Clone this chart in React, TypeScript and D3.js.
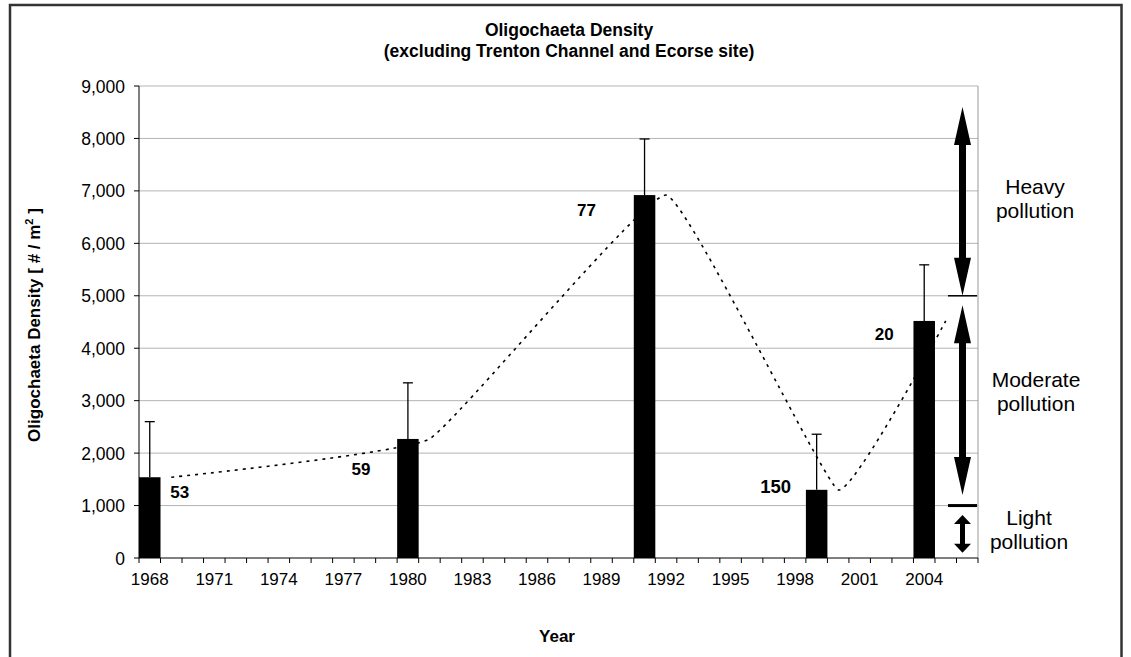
import React from "react";
import * as d3 from "d3";

// sampling years with density and upper error values (# / m2)
const years = [1968, 1980, 1991, 1999, 2004];
const density = [1540, 2270, 6920, 1300, 4520];
const errorTop = [2600, 3340, 7990, 2360, 5590];
const sampleCounts = ["53", "59", "77", "150", "20"];

const axisYears = d3.range(1968, 2007);
const yTicks = [0, 1000, 2000, 3000, 4000, 5000, 6000, 7000, 8000, 9000];

// pollution classes: arrow range in density units
const zones = [
  { name: ["Heavy", "pollution"], from: 8600, to: 5000, big: true },
  { name: ["Moderate", "pollution"], from: 4820, to: 1200, big: true },
  { name: ["Light", "pollution"], from: 820, to: 100, big: false },
];
const zoneLines = [5000, 1000];

const W = 1131;
const H = 657;
const m = { left: 139, right: 978, top: 86, bottom: 558 };
const font = "Arial, 'Liberation Sans', sans-serif";

function arrowPath(x: number, y1: number, y2: number, big: boolean) {
  const hl = big ? 38 : 9;
  const hw = 8.5;
  const sw = big ? 3.5 : 2.5;
  return [
    `M${x},${y1}`,
    `L${x + hw},${y1 + hl}`,
    `L${x + sw},${y1 + hl}`,
    `L${x + sw},${y2 - hl}`,
    `L${x + hw},${y2 - hl}`,
    `L${x},${y2}`,
    `L${x - hw},${y2 - hl}`,
    `L${x - sw},${y2 - hl}`,
    `L${x - sw},${y1 + hl}`,
    `L${x - hw},${y1 + hl}`,
    "Z",
  ].join(" ");
}

export default function App() {
  const x = d3
    .scaleBand<number>()
    .domain(axisYears)
    .range([m.left, m.right])
    .padding(0);
  const y = d3.scaleLinear().domain([0, 9000]).range([m.bottom, m.top]);
  const bw = x.bandwidth();

  // trend line is offset one year to the right, as in the original sheet
  const line = d3
    .line<number>()
    .x((_, i) => x(years[i] + 1)! + bw / 2)
    .y((d) => y(d))
    .curve(d3.curveCardinal.tension(0.7));

  const labelOffsets = [
    [30, 15],
    [-47, 30],
    [-58, 15],
    [-41, -3],
    [-40, 13],
  ];
  // label anchor (x centre, first baseline) for the pollution classes
  const zoneLabelPos = [
    [1035, 194],
    [1036, 387],
    [1029, 525],
  ];

  const arrowX = m.right - 15.5;

  return (
    <svg
      width={W}
      height={H}
      style={{ position: "absolute", left: 0, top: 0 }}
      fontFamily={font}
    >
      <rect x={0} y={0} width={W} height={H} fill="#fff" />
      <rect
        x={10}
        y={5}
        width={1111.5}
        height={700}
        fill="none"
        stroke="#333"
        strokeWidth={2.5}
      />

      {/* title */}
      <text x={569} y={36} textAnchor="middle" fontSize={17.5} fontWeight="bold">
        Oligochaeta Density
      </text>
      <text x={569} y={57} textAnchor="middle" fontSize={17.5} fontWeight="bold">
        (excluding Trenton Channel and Ecorse site)
      </text>

      {/* gridlines */}
      {yTicks.slice(1).map((t) => (
        <line
          key={t}
          x1={m.left}
          x2={m.right}
          y1={y(t)}
          y2={y(t)}
          stroke="#b4b4b4"
          strokeWidth={1}
        />
      ))}
      <line x1={m.right} x2={m.right} y1={m.top} y2={m.bottom} stroke="#999" />

      {/* y axis */}
      <line x1={m.left} x2={m.left} y1={m.top} y2={m.bottom} stroke="#000" />
      {yTicks.map((t) => (
        <g key={t}>
          <line x1={m.left - 5} x2={m.left} y1={y(t)} y2={y(t)} stroke="#000" />
          <text x={125} y={y(t) + 6.5} textAnchor="end" fontSize={17.5}>
            {d3.format(",")(t)}
          </text>
        </g>
      ))}
      <text
        transform={`translate(40,325) rotate(-90)`}
        textAnchor="middle"
        fontSize={17}
        fontWeight="bold"
      >
        Oligochaeta Density [ # / m
        <tspan dy={-7} fontSize={11}>
          2
        </tspan>
        <tspan dy={7}> ]</tspan>
      </text>

      {/* x axis */}
      <line x1={m.left} x2={m.right} y1={m.bottom} y2={m.bottom} stroke="#000" />
      {axisYears.concat([2007]).map((yr, i) => {
        const px = m.left + i * bw;
        return (
          <line key={yr} x1={px} x2={px} y1={m.bottom} y2={m.bottom + 5} stroke="#000" />
        );
      })}
      {axisYears
        .filter((yr) => (yr - 1968) % 3 === 0)
        .map((yr) => (
          <text key={yr} x={x(yr)! + bw / 2} y={585} textAnchor="middle" fontSize={17}>
            {yr}
          </text>
        ))}
      <text x={557} y={642} textAnchor="middle" fontSize={17} fontWeight="bold">
        Year
      </text>

      {/* dotted trend */}
      <path
        d={line(density) || ""}
        fill="none"
        stroke="#000"
        strokeWidth={1.6}
        strokeDasharray="3,5"
      />

      {/* error bars */}
      {years.map((yr, i) => {
        const cx = x(yr)! + bw / 2;
        return (
          <g key={yr} stroke="#000" strokeWidth={1.3}>
            <line x1={cx} x2={cx} y1={y(density[i])} y2={y(errorTop[i])} />
            <line x1={cx - 5} x2={cx + 5} y1={y(errorTop[i])} y2={y(errorTop[i])} />
          </g>
        );
      })}

      {/* bars */}
      {years.map((yr, i) => (
        <rect
          key={yr}
          x={x(yr)!}
          y={y(density[i])}
          width={bw}
          height={y(0) - y(density[i])}
          fill="#000"
        />
      ))}

      {/* sample counts */}
      {years.map((yr, i) => (
        <text
          key={yr}
          x={x(yr)! + bw / 2 + labelOffsets[i][0]}
          y={y(density[i]) + labelOffsets[i][1] + 6}
          textAnchor="middle"
          fontSize={sampleCounts[i] === "150" ? 18.5 : 17}
          fontWeight="bold"
        >
          {sampleCounts[i]}
        </text>
      ))}

      {/* pollution classes */}
      {zoneLines.map((v, i) => (
        <line
          key={v}
          x1={m.right - 30}
          x2={m.right - 1}
          y1={y(v)}
          y2={y(v)}
          stroke="#000"
          strokeWidth={i === 0 ? 1.5 : 3}
        />
      ))}
      {zones.map((z) => (
        <path key={z.name[0]} d={arrowPath(arrowX, y(z.from), y(z.to), z.big)} fill="#000" />
      ))}
      {zones.map((z, i) => (
        <text key={z.name[0]} textAnchor="middle" fontSize={21}>
          <tspan x={zoneLabelPos[i][0]} y={zoneLabelPos[i][1]}>
            {z.name[0]}
          </tspan>
          <tspan x={zoneLabelPos[i][0]} y={zoneLabelPos[i][1] + 24}>
            {z.name[1]}
          </tspan>
        </text>
      ))}
    </svg>
  );
}
